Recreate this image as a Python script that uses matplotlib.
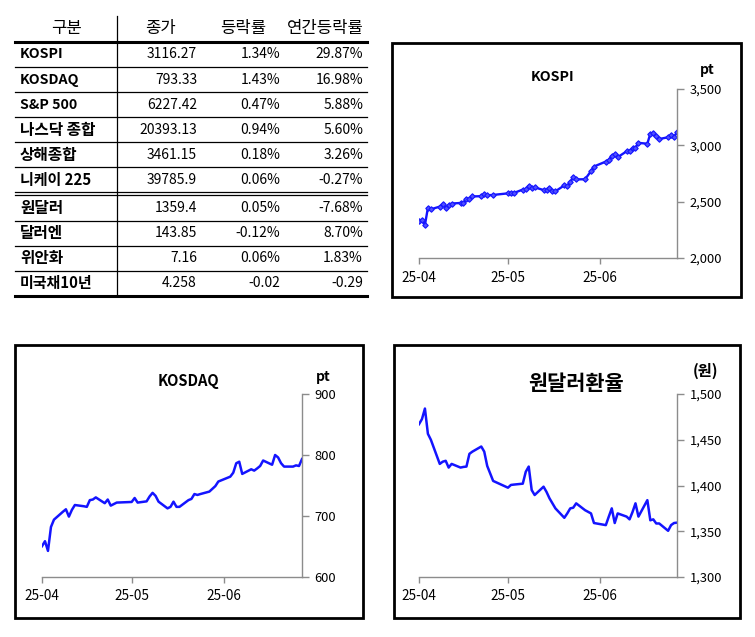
import numpy as np
import pandas as pd
import matplotlib
matplotlib.use("Agg")
import matplotlib.pyplot as plt
import matplotlib.dates as mdates
from matplotlib.patches import Rectangle
from matplotlib.ticker import FuncFormatter

plt.rcParams["font.family"] = ["Noto Sans CJK KR", "DejaVu Sans"]

# ---- table data ----
row_names = ["KOSPI", "KOSDAQ", "S&P 500", "나스닥 종합", "상해종합", "니케이 225",
             "원달러", "달러엔", "위안화", "미국채10년"]
close = ["3116.27", "793.33", "6227.42", "20393.13", "3461.15", "39785.9",
         "1359.4", "143.85", "7.16", "4.258"]
change = ["1.34%", "1.43%", "0.47%", "0.94%", "0.18%", "0.06%",
          "0.05%", "-0.12%", "0.06%", "-0.02"]
ytd = ["29.87%", "16.98%", "5.88%", "5.60%", "3.26%", "-0.27%",
       "-7.68%", "8.70%", "1.83%", "-0.29"]
headers = ["구분", "종가", "등락률", "연간등락률"]

# ---- series data (trading days 2025-04-07 .. 2025-07-03) ----
holidays = ["2025-05-01", "2025-05-05", "2025-05-06", "2025-06-03", "2025-06-06"]
dates = pd.bdate_range("2025-04-07", "2025-07-03")
dates = dates[~dates.isin(pd.to_datetime(holidays))]

kospi = [2328.20, 2334.23, 2293.70, 2445.06, 2432.72, 2455.89, 2477.41, 2447.00, 2470.16,
         2483.42, 2488.42, 2486.64, 2525.56, 2522.33, 2546.30, 2548.86, 2565.42, 2556.61,
         2559.79, 2573.80, 2578.28, 2577.27, 2607.33, 2608.42, 2640.57, 2621.01, 2626.87,
         2603.42, 2601.00, 2625.58, 2593.67, 2592.09, 2644.40, 2637.22, 2670.15, 2720.64,
         2697.67, 2698.97, 2770.84, 2812.05, 2855.77, 2871.85, 2907.04, 2920.03, 2894.62,
         2946.66, 2950.30, 2972.29, 2977.74, 3021.84, 3014.47, 3103.64, 3108.40, 3079.56,
         3055.94, 3071.70, 3089.65, 3075.06, 3116.27]

kosdaq = [650.5, 658.7, 642.8, 682.0, 694.0, 707.0, 711.0, 699.0, 710.0,
          718.0, 716.0, 715.0, 726.0, 727.0, 730.5, 721.0, 727.0, 717.0,
          722.0, 723.0, 729.5, 722.0, 724.0, 732.0, 738.0, 733.0, 723.5,
          712.5, 715.0, 723.5, 715.0, 715.0, 726.0, 728.0, 736.0, 734.5,
          736.0, 740.0, 749.0, 756.5, 764.5, 771.0, 786.5, 789.0, 769.0,
          776.6, 774.4, 778.0, 782.0, 791.0, 784.0, 800.0, 796.0, 786.5,
          781.0, 781.0, 783.0, 782.0, 793.33]

usdkrw = [1467.0, 1472.6, 1484.1, 1456.5, 1450.0, 1423.6, 1426.0, 1427.0, 1419.6,
          1423.6, 1419.6, 1420.3, 1420.7, 1434.6, 1437.0, 1442.6, 1437.0, 1421.4,
          1405.0, 1397.6, 1400.6, 1401.0, 1402.0, 1415.0, 1420.7, 1395.0, 1389.6,
          1398.7, 1393.0, 1386.0, 1380.5, 1375.0, 1364.7, 1369.5, 1375.0, 1375.7,
          1380.5, 1373.0, 1369.5, 1359.0, 1356.7, 1366.0, 1375.0, 1359.0, 1369.5,
          1366.0, 1363.0, 1371.0, 1380.5, 1366.0, 1384.0, 1362.0, 1363.0, 1358.5,
          1358.5, 1350.5, 1356.7, 1359.0, 1359.4]

tick_dates = pd.to_datetime(["2025-04-07", "2025-05-07", "2025-06-07"])

W, H = 755, 637
BLUE = "#1414ff"
GREY = "#8c8c8c"

fig = plt.figure(figsize=(W / 100, H / 100), dpi=100)
ov = fig.add_axes([0, 0, 1, 1])
ov.set_xlim(0, W)
ov.set_ylim(H, 0)
ov.axis("off")


def frac(x0, y0, x1, y1):
    """pixel box (top-left origin) -> figure fraction rect"""
    return [x0 / W, 1 - y1 / H, (x1 - x0) / W, (y1 - y0) / H]


def name_size(s):
    hangul = any("\uac00" <= ch <= "\ud7a3" for ch in s)
    digits = any(ch.isdigit() for ch in s)
    if hangul and digits:
        return 10.8
    return 11.3 if hangul else 10.2


# ---- table ----
hdr_x = [67, 160, 243, 325]
for x, h in zip(hdr_x, headers):
    ov.text(x, 29, h, ha="center", va="center", fontsize=12)

row_y = [54.5, 79.8, 104.8, 129.8, 154.8, 180.0, 207.5, 233.0, 258.0, 283.0]
for y, n, c, d, a in zip(row_y, row_names, close, change, ytd):
    ov.text(20, y, n, ha="left", va="center", fontweight="bold", fontsize=name_size(n))
    ov.text(197, y, c, ha="right", va="center", fontsize=10)
    ov.text(280, y, d, ha="right", va="center", fontsize=10)
    ov.text(363, y, a, ha="right", va="center", fontsize=10)

TX0, TX1 = 15, 367
ov.plot([TX0, TX1], [41.7, 41.7], color="black", lw=2.2)
for y in [67.3, 92.3, 117.3, 142.3, 167.3, 220.7, 245.7, 270.7]:
    ov.plot([TX0, TX1], [y, y], color="black", lw=0.9)
ov.plot([TX0, TX1], [192.3, 192.3], color="black", lw=0.9)
ov.plot([TX0, TX1], [195.3, 195.3], color="black", lw=0.9)
ov.plot([TX0, TX1], [295.7, 295.7], color="black", lw=2.2)
ov.plot([117, 117], [16, 295], color="black", lw=0.9)

# ---- chart boxes ----
for x0, y0, x1, y1 in [(392, 43, 741, 297), (15, 345, 363, 618), (394, 345, 740, 618)]:
    ov.add_patch(Rectangle((x0, y0), x1 - x0, y1 - y0, fill=False, ec="black", lw=2))


def line_chart(box, values, ylim, yticks, title, tx, ty, tsize, unit, ux, uy, usize,
               markers=False):
    ax = fig.add_axes(frac(*box))
    ax.patch.set_alpha(0)
    if markers:
        ax.plot(dates, values, color=BLUE, lw=1.7, marker="D", ms=2.8,
                mfc="#5050ff", mec=BLUE, mew=0.8)
    else:
        ax.plot(dates, values, color=BLUE, lw=1.8)
    ax.set_xlim(dates[0], dates[-1])
    ax.set_ylim(*ylim)
    ax.set_yticks(yticks)
    ax.yaxis.set_major_formatter(FuncFormatter(lambda v, p: f"{v:,.0f}"))
    ax.yaxis.tick_right()
    ax.set_xticks(tick_dates)
    ax.xaxis.set_major_formatter(mdates.DateFormatter("%y-%m"))
    for s in ("top", "left"):
        ax.spines[s].set_visible(False)
    for s in ("right", "bottom"):
        ax.spines[s].set_color(GREY)
        ax.spines[s].set_linewidth(1)
    ax.tick_params(axis="y", direction="out", length=5, width=1, color=GREY,
                   pad=4, labelsize=9.3)
    ax.tick_params(axis="x", direction="out", length=4, width=1, color=GREY,
                   pad=5, labelsize=9.8)
    ov.text(tx, ty, title, ha="center", va="center", fontsize=tsize, fontweight="bold")
    ov.text(ux, uy, unit, ha="center", va="center", fontsize=usize, fontweight="bold")
    return ax


line_chart((419, 89, 677, 258), kospi, (2000, 3500), [2000, 2500, 3000, 3500],
           "KOSPI", 553, 77, 10.2, "pt", 707, 70, 10, markers=True)
line_chart((42, 394, 302, 577), kosdaq, (600, 900), [600, 700, 800, 900],
           "KOSDAQ", 188, 381, 10.6, "pt", 323, 377, 10)
line_chart((419, 394, 677, 577), usdkrw, (1300, 1500), [1300, 1350, 1400, 1450, 1500],
           "원달러환율", 576, 384, 15, "(원)", 706, 371, 11)

fig.savefig("out.png", dpi=100)
